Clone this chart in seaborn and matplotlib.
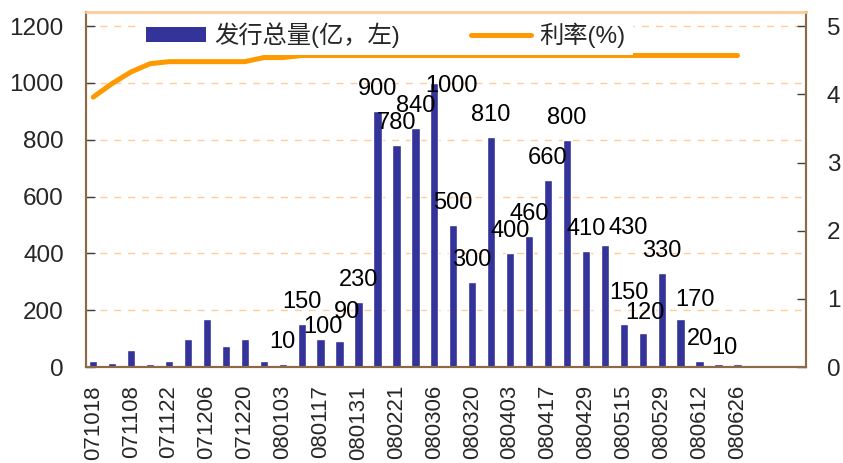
import numpy as np
import pandas as pd
import matplotlib
matplotlib.use("Agg")
import matplotlib.pyplot as plt
import seaborn as sns
from matplotlib.patches import Patch
from matplotlib.lines import Line2D

# 每周发行总量（亿）和利率（%）
volume = [20, 15, 60, 10, 20, 100, 170, 75, 100, 20,
          10, 150, 100, 90, 230, 900, 780, 840, 1000, 500,
          300, 810, 400, 460, 660, 800, 410, 430, 150, 120,
          330, 170, 20, 10, 10]
rate = [3.96, 4.16, 4.33, 4.45, 4.48, 4.48, 4.48, 4.48, 4.48, 4.54,
        4.54, 4.57, 4.57, 4.57, 4.57, 4.57, 4.57, 4.57, 4.57, 4.57,
        4.57, 4.57, 4.57, 4.57, 4.57, 4.57, 4.57, 4.57, 4.57, 4.57,
        4.57, 4.57, 4.57, 4.57, 4.57]
bar_labels = ["", "", "", "", "", "", "", "", "", "",
              "10", "150", "100", "90", "230", "900", "780", "840", "1000", "500",
              "300", "810", "400", "460", "660", "800", "410", "430", "150", "120",
              "330", "170", "20", "10", ""]
date_labels = ["071018", "071108", "071122", "071206", "071220", "080103",
               "080117", "080131", "080221", "080306", "080320", "080403",
               "080417", "080429", "080515", "080529", "080612", "080626"]
legend_labels = ["发行总量(亿，左)", "利率(%)"]

n_slots = 38          # 3 empty weeks at the right end
shift = 0.384         # bars sit a little left of the slot centre
# manual label nudges in pixels (dx, dy)
nudges = {12: (2, -10), 13: (7, 7), 18: (17, -25), 27: (23, -5),
          28: (5, 9), 29: (2, -2), 31: (14, -3), 33: (6, -6)}

bar_color = "#333399"
line_color = "#FF9900"
spine_color = "#8B6A45"
grid_color = "#FFCC99"

sns.set_style("white")
plt.rcParams["font.family"] = ["Liberation Sans", "Noto Sans CJK SC"]

df = pd.DataFrame({"idx": np.arange(len(volume)), "volume": volume, "rate": rate})

fig = plt.figure(figsize=(8.43, 4.63), dpi=100)
ax = fig.add_axes([86 / 843, 96 / 463, 720 / 843, 355 / 463])
sns.barplot(data=df, x="idx", y="volume", color=bar_color, width=0.44,
            saturation=1, ax=ax, zorder=2)

ax2 = ax.twinx()
sns.lineplot(data=df, x="idx", y="rate", ax=ax2, color=line_color, lw=3.6)

ax.set_xlim(-shift, n_slots - shift)
ax.set_ylim(0, 1250)
ax2.set_ylim(0, 1250 / 240)
ax.set_yticks(range(0, 1201, 200))
ax2.set_yticks(range(0, 6))
ax.set_xticks(np.arange(0, len(volume), 2))
ax.set_xticklabels(date_labels, rotation=90)
ax.set_xticks(np.arange(n_slots + 1) - shift, minor=True)
for a in (ax, ax2):
    a.set_xlabel("")
    a.set_ylabel("")

ax.set_axisbelow(True)
ax.yaxis.grid(True, color=grid_color, linestyle=(0, (5, 5)), lw=1)

ax.tick_params(axis="x", which="major", length=0, pad=13, labelsize=16)
ax.tick_params(axis="x", which="minor", direction="in", length=4.5, width=1, color="#404040")
ax.tick_params(axis="y", direction="in", length=6.5, width=1, color="#404040", pad=16, labelsize=17.5)
ax2.tick_params(axis="y", direction="in", length=6.5, width=1, color="#404040", pad=15, labelsize=17.5)

for a in (ax, ax2):
    for side in ("left", "right", "bottom"):
        a.spines[side].set_color(spine_color)
        a.spines[side].set_linewidth(1.5)
    a.spines["top"].set_color(grid_color)
    a.spines["top"].set_linewidth(1.8)

# data labels
for i, lab in enumerate(bar_labels):
    if not lab:
        continue
    dx, dy = nudges.get(i, (0, 0))
    ax.annotate(lab, (i, volume[i]), xytext=(dx * 0.72, (22 + dy) * 0.72),
                textcoords="offset points", ha="center", va="center",
                fontsize=17, color="black", zorder=4)

handles = [Patch(facecolor=bar_color, edgecolor="none"),
           Line2D([0], [0], color=line_color, lw=3.6)]
leg = ax2.legend(handles, legend_labels, loc="center", bbox_to_anchor=(0.416, 0.935),
                 ncol=2, fontsize=17.5, frameon=True, facecolor="white", edgecolor="none",
                 framealpha=1, fancybox=False, handlelength=2.5, handleheight=0.6,
                 handletextpad=0.33, columnspacing=2.9, borderpad=0.3)

fig.savefig("out.png", dpi=100)
